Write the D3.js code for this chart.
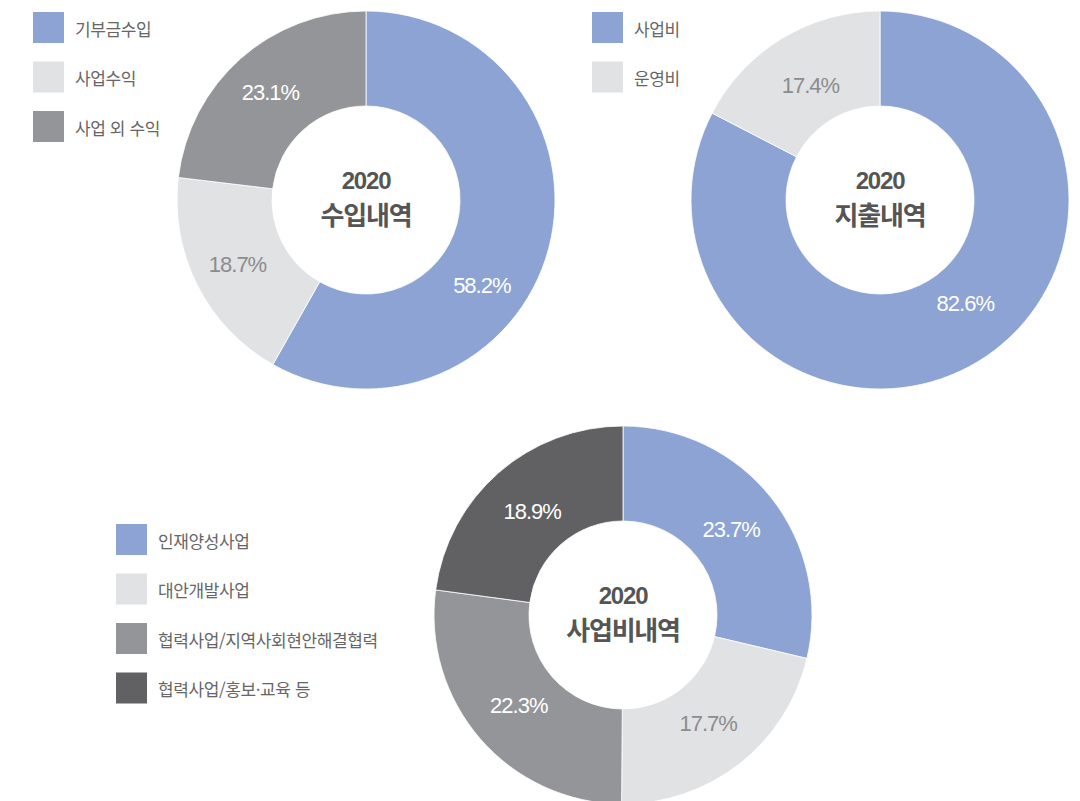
<!DOCTYPE html>
<html lang="ko">
<head>
<meta charset="utf-8">
<script src="https://cdn.jsdelivr.net/npm/d3@7/dist/d3.min.js"></script>
<style>
  html, body { margin: 0; padding: 0; background: #fff; }
  svg { display: block; }
  .legend text { font-family: "Noto Sans CJK KR", "Noto Sans", sans-serif; font-size: 17px; fill: #666; letter-spacing: -0.4px; }
  .title-year { font-family: "Liberation Sans", Arial, sans-serif; font-size: 24px; font-weight: 700; fill: #555; letter-spacing: -1.2px; }
  .title-name { font-family: "Noto Sans CJK KR", sans-serif; font-size: 26px; font-weight: 700; fill: #555; letter-spacing: -1.2px; }
  .pct { font-family: "Liberation Sans", Arial, sans-serif; font-size: 22px; letter-spacing: -1px; }
</style>
</head>
<body>
<svg id="chart" width="1080" height="801"></svg>
<script>
// 2020 수입내역
const incomeCategories = ["기부금수입", "사업수익", "사업 외 수익"];
const incomeValues = [58.2, 18.7, 23.1];

// 2020 지출내역
const spendCategories = ["사업비", "운영비"];
const spendValues = [82.6, 17.4];

// 2020 사업비내역 (지출 대비 비율)
const projectCategories = ["인재양성사업", "대안개발사업", "협력사업/지역사회현안해결협력", "협력사업/홍보·교육 등"];
const projectValues = [23.7, 17.7, 22.3, 18.9];

const BLUE = "#8ca3d4", LIGHT = "#e1e2e4", MID = "#949598", DARK = "#616163";

const charts = [
  { year: "2020", name: "수입내역", cats: incomeCategories, vals: incomeValues,
    colors: [BLUE, LIGHT, MID], textColors: ["#fff", "#8b8c8f", "#fff"],
    cx: 366, cy: 200, labelR: 144, labelShift: [21.7, 0, 0],
    legend: { x: 33, y: 12 } },
  { year: "2020", name: "지출내역", cats: spendCategories, vals: spendValues,
    colors: [BLUE, LIGHT], textColors: ["#fff", "#8b8c8f"],
    cx: 880, cy: 200, labelR: 134, labelShift: [-8.2, 0],
    legend: { x: 592, y: 12 } },
  { year: "2020", name: "사업비내역", cats: projectCategories, vals: projectValues,
    colors: [BLUE, LIGHT, MID, DARK], textColors: ["#fff", "#8b8c8f", "#fff", "#fff"],
    cx: 623, cy: 615, labelR: 138, labelShift: [0, 0, 0, 0],
    legend: { x: 116, y: 524 } }
];

const svg = d3.select("#chart");
const outerR = 189, innerR = 94;
const arc = d3.arc().innerRadius(innerR).outerRadius(outerR);
const pie = d3.pie().sort(null).value(d => d);

charts.forEach(c => {
  const g = svg.append("g").attr("transform", `translate(${c.cx},${c.cy})`);
  const color = d3.scaleOrdinal().domain(c.cats).range(c.colors);
  const arcs = pie(c.vals);

  g.selectAll("path.slice").data(arcs).join("path")
    .attr("class", "slice")
    .attr("d", arc)
    .attr("fill", (d, i) => color(c.cats[i]))
    .attr("stroke", "#fff")
    .attr("stroke-width", 0.8);

  g.selectAll("text.pct").data(arcs).join("text")
    .attr("class", "pct")
    .attr("text-anchor", "middle")
    .attr("dominant-baseline", "central")
    .attr("fill", (d, i) => c.textColors[i])
    .attr("transform", (d, i) => {
      const a = (d.startAngle + d.endAngle) / 2 + c.labelShift[i] * Math.PI / 180;
      return `translate(${c.labelR * Math.sin(a)},${-c.labelR * Math.cos(a)})`;
    })
    .text(d => d.data.toFixed(1) + "%");

  // centre title: year above, chart name below
  g.append("text").attr("class", "title-year").attr("text-anchor", "middle").attr("y", -11).text(c.year);
  g.append("text").attr("class", "title-name").attr("text-anchor", "middle").attr("y", 24.5).text(c.name);

  const lg = svg.append("g").attr("class", "legend")
    .attr("transform", `translate(${c.legend.x},${c.legend.y})`);
  const item = lg.selectAll("g").data(c.cats).join("g")
    .attr("transform", (d, i) => `translate(0,${i * 49.5})`);
  item.append("rect").attr("width", 31).attr("height", 31).attr("fill", d => color(d));
  item.append("text").attr("x", 42).attr("y", 16).attr("dominant-baseline", "central").text(d => d);
});
</script>
</body>
</html>
